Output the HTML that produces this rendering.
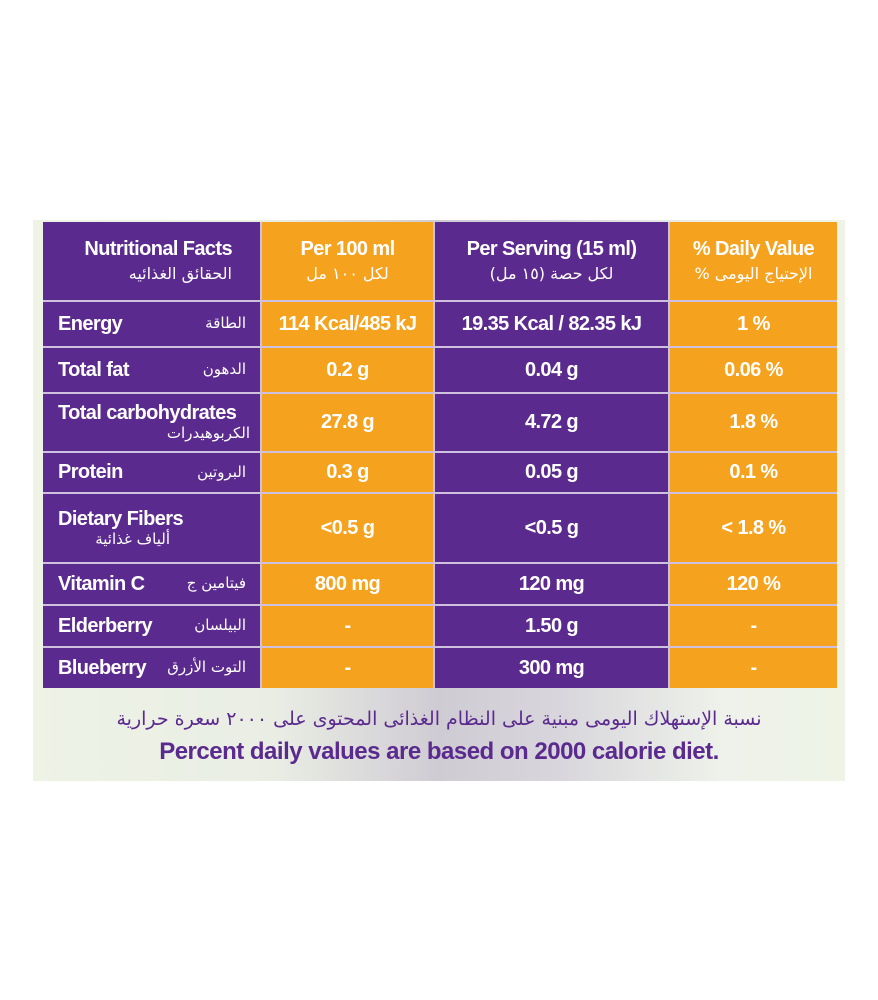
<!DOCTYPE html>
<html><head><meta charset="utf-8"><style>
*{margin:0;padding:0;box-sizing:border-box}
body{width:878px;height:1000px;background:#fff;position:relative;overflow:hidden;font-family:"Liberation Sans","Noto Sans CJK SC",sans-serif;font-weight:bold}
#bg{position:absolute;left:33px;top:220px;width:812px;height:561px;background:linear-gradient(90deg,#eef3e6 0%,#e9ede4 30%,#cfcbd3 50%,#d8d6dc 65%,#eef2ea 85%,#eef3e6 100%)}
#tbl{position:absolute;left:43px;top:222px;width:794px;height:466px;background:#cfc0e0}
.c{position:absolute;display:flex;align-items:center;justify-content:center;color:#fff;font-size:20px;text-align:center;line-height:1.15;letter-spacing:-0.6px;white-space:nowrap}
.p{background:#5b2a8e}.o{background:#f5a21f}
.ar{font-family:"DejaVu Sans",sans-serif;font-weight:normal;font-size:15px;letter-spacing:0}
.l{justify-content:space-between;padding:0 14px 0 15px}
</style></head><body>
<div id="bg"></div>
<div id="tbl"></div>
<div id="cells"></div>
<script>
const rows=[[222,78],[302,44],[348,44],[394,57],[453,39],[494,68],[564,40],[606,40],[648,40]];
const cols=[[43,217,'p'],[262,171,'o'],[435,233,'p'],[670,167,'o']];
const data=[
['<div style="text-align:right;width:100%;padding-right:28px">Nutritional Facts<div class="ar" dir="rtl" style="text-align:right;font-size:16px;margin-top:4px">الحقائق الغذائيه</div></div>','<div>Per 100 ml<div class="ar" style="font-size:16px;margin-top:4px">لكل ١٠٠ مل</div></div>','<div>Per Serving (15 ml)<div class="ar" style="font-size:16px;margin-top:4px" dir="rtl">لكل حصة (١٥ مل)</div></div>','<div>% Daily Value<div class="ar" style="font-size:16px;margin-top:4px" dir="rtl">الإحتياج اليومى %</div></div>'],
['L:Energy:الطاقة','114 Kcal/485 kJ','19.35 Kcal / 82.35  kJ','1 %'],
['L:Total fat:الدهون','0.2 g','0.04 g','0.06 %'],
['<div style="width:100%;text-align:left;padding-left:15px">Total carbohydrates<div class="ar" style="text-align:right;padding-right:10px">الكربوهيدرات</div></div>','27.8 g','4.72 g','1.8 %'],
['L:Protein:البروتين','0.3 g','0.05 g','0.1 %'],
['<div style="width:100%;text-align:left;padding-left:15px">Dietary Fibers<div class="ar" style="text-align:right;padding-right:90px">ألياف غذائية</div></div>','&lt;0.5 g','&lt;0.5 g','&lt; 1.8 %'],
['L:Vitamin C:فيتامين ج','800 mg','120 mg','120 %'],
['L:Elderberry:البيلسان','-','1.50 g','-'],
['L:Blueberry:التوت الأزرق','-','300 mg','-']];
let h='';
rows.forEach((r,i)=>cols.forEach((c,j)=>{let t=data[i][j],cls='c '+c[2];
if(t.startsWith('L:')){const a=t.split(':');t='<span>'+a[1]+'</span><span class="ar">'+a[2]+'</span>';cls+=' l';}
h+=`<div class="${cls}" style="left:${c[0]}px;top:${r[0]}px;width:${c[1]}px;height:${r[1]}px">${t}</div>`;}));
document.getElementById('cells').innerHTML=h;
</script>
<div class="ar" style="position:absolute;left:33px;width:812px;top:708px;text-align:center;color:#5b2a8e;font-size:19px" dir="rtl">نسبة الإستهلاك اليومى مبنية على النظام الغذائى المحتوى على ٢٠٠٠ سعرة حرارية</div>
<div style="position:absolute;left:33px;width:812px;top:738px;text-align:center;color:#5b2a8e;font-size:24px;letter-spacing:-0.5px">Percent daily values are based on 2000 calorie diet.</div>
</body></html>
